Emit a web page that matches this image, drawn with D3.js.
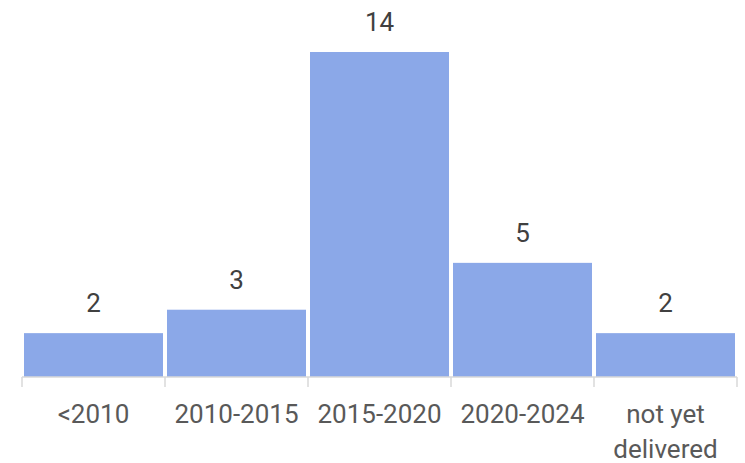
<!DOCTYPE html>
<html>
<head>
<meta charset="utf-8">
<script src="https://cdn.jsdelivr.net/npm/d3@7"></script>
<style>
  body { margin: 0; background: #fff; }
  svg { display: block; font-family: Roboto, "Liberation Sans", Arial, sans-serif; }
</style>
</head>
<body>
<svg id="chart" width="745" height="463"></svg>
<script>
// data
const categories = ["<2010", "2010-2015", "2015-2020", "2020-2024", "not yet delivered"];
const counts = [2, 3, 14, 5, 2];

const width = 745, height = 463;
const margin = { left: 22, right: 8, top: 52 };
const baseY = 377;      // axis line
const zeroY = 380;      // where the value scale starts (bars are clipped at the axis)

const svg = d3.select("#chart");

const x = d3.scaleBand()
    .domain(categories)
    .range([margin.left, width - margin.right])
    .paddingInner(0)
    .paddingOuter(0);

const y = d3.scaleLinear()
    .domain([0, 14])
    .range([zeroY, margin.top]);

// bars, with a small white gap between them
svg.append("g")
    .selectAll("rect")
    .data(counts)
    .join("rect")
    .attr("x", (d, i) => x(categories[i]) + 2)
    .attr("width", x.bandwidth() - 4)
    .attr("y", d => y(d))
    .attr("height", d => baseY - y(d))
    .attr("fill", "#8BA8E8");

// value labels
svg.append("g")
    .selectAll("text")
    .data(counts)
    .join("text")
    .attr("x", (d, i) => x(categories[i]) + x.bandwidth() / 2)
    .attr("y", d => y(d) - 21)
    .attr("text-anchor", "middle")
    .attr("font-size", 26)
    .attr("fill", "#404040")
    .text(d => d);

// axis line and tick marks at band edges
const axis = svg.append("g");
axis.append("line")
    .attr("x1", margin.left).attr("x2", width - margin.right)
    .attr("y1", baseY).attr("y2", baseY)
    .attr("stroke", "#d9d9d9").attr("stroke-width", 1.5);

const edges = categories.map(c => x(c)).concat([x.range()[1]]);
axis.selectAll("line.tick")
    .data(edges)
    .join("line")
    .attr("class", "tick")
    .attr("x1", d => d).attr("x2", d => d)
    .attr("y1", baseY).attr("y2", baseY + 10)
    .attr("stroke", "#d9d9d9").attr("stroke-width", 1.5);

// category labels, wrapped where the picture wraps them
const labelLines = { "not yet delivered": ["not yet", "delivered"] };
const lbl = axis.selectAll("text.cat")
    .data(categories)
    .join("text")
    .attr("class", "cat")
    .attr("x", d => x(d) + x.bandwidth() / 2)
    .attr("y", 423)
    .attr("text-anchor", "middle")
    .attr("font-size", 26)
    .attr("fill", "#595959");

lbl.each(function (d) {
    const lines = labelLines[d] || [d];
    const t = d3.select(this);
    lines.forEach((s, i) => {
        t.append("tspan")
            .attr("x", x(d) + x.bandwidth() / 2)
            .attr("dy", i === 0 ? 0 : 35)
            .text(s);
    });
});
</script>
</body>
</html>
